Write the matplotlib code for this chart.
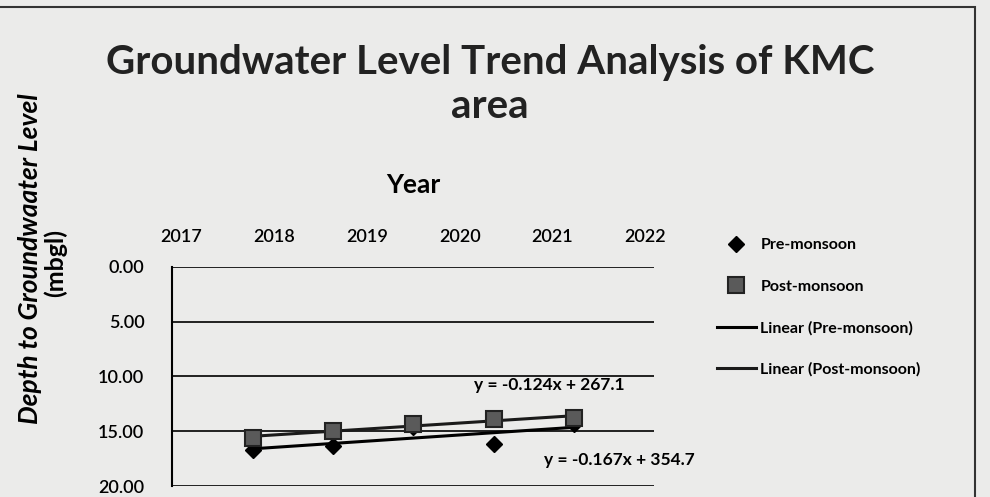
import matplotlib.pyplot as plt
import numpy as np
from matplotlib.patches import Rectangle

plt.rcParams['font.family'] = ['Lato', 'DejaVu Sans']

years = [2018, 2019, 2020, 2021, 2022]
pre_monsoon = [16.7, 16.3, 14.6, 16.2, 14.3]
post_monsoon = [15.6, 15.0, 14.3, 13.9, 13.8]
year_ticks = [2017, 2018, 2019, 2020, 2021, 2022]
depth_ticks = [0, 5, 10, 15, 20]
pre_eq = "y = -0.167x + 354.7"
post_eq = "y = -0.124x + 267.1"

bg = '#ebebea'
fig = plt.figure(figsize=(9.9, 4.97), dpi=100, facecolor=bg)
ax = fig.add_axes([0.174, 0.022, 0.487, 0.441])
ax.set_facecolor(bg)

x = np.array(years)
# trend lines
p_pre = np.polyfit(x, pre_monsoon, 1)
p_post = np.polyfit(x, post_monsoon, 1)
l1, = ax.plot(x, np.polyval(p_pre, x), color='black', lw=2.2, zorder=3)
l2, = ax.plot(x, np.polyval(p_post, x), color='#1a1a1a', lw=2.2, zorder=3)
m1, = ax.plot(x, pre_monsoon, 'D', color='black', ms=8, ls='none', zorder=4)
m2, = ax.plot(x, post_monsoon, 's', color='#5a5a5a', mec='#222222', mew=1.5,
              ms=11, ls='none', zorder=5)

ax.set_xlim(2017, 2023)
ax.set_ylim(20, 0)
ax.set_yticks(depth_ticks)
ax.set_yticklabels(['%.2f' % v for v in depth_ticks], fontsize=13,
                   fontweight='semibold')
ax.tick_params(axis='y', length=0, pad=20)
ax.set_xticks([])
ax.grid(axis='y', color='#111111', lw=1.3)
for s in ['top', 'right', 'bottom']:
    ax.spines[s].set_visible(False)
ax.spines['left'].set_linewidth(1.5)

# year labels on top
top = ax.twiny()
top.set_xlim(2016.9, 2022.1)
top.set_xticks(year_ticks)
top.set_xticklabels([str(y) for y in year_ticks], fontsize=13,
                    fontweight='semibold')
top.tick_params(axis='x', length=0, pad=16)
for s in top.spines.values():
    s.set_visible(False)
top.set_xlabel('Year', fontsize=19, fontweight='bold', labelpad=26)

ax.text(2020.76, 10.75, post_eq, fontsize=12.5, fontweight='bold',
        va='center', clip_on=False)
ax.text(2021.63, 17.6, pre_eq, fontsize=12.5, fontweight='bold',
        va='center', clip_on=False)

fig.text(0.495, 0.83, 'Groundwater Level Trend Analysis of KMC\narea',
         ha='center', va='center', fontsize=29, fontweight='bold',
         color='#222222', linespacing=1.25)

fig.text(0.03, 0.48, 'Depth to Groundwaater Level', rotation=90, ha='center',
         va='center', fontsize=19, fontweight='bold', style='italic')
fig.text(0.056, 0.47, '(mbgl)', rotation=90, ha='center', va='center',
         fontsize=18, fontweight='bold')

fig.legend([m1, m2, l1, l2],
           ['Pre-monsoon', 'Post-monsoon', 'Linear (Pre-monsoon)',
            'Linear (Post-monsoon)'],
           loc='upper left', bbox_to_anchor=(0.71, 0.55), frameon=False,
           prop={'size': 11.5, 'weight': 'bold'}, labelspacing=1.7,
           handlelength=2.4, handletextpad=0.3)

fig.patches.append(Rectangle((-0.01, -0.05), 0.995, 1.035, transform=fig.transFigure,
                             fill=False, ec='#333333', lw=1.5))

fig.savefig('out.png', dpi=100, facecolor=bg)
